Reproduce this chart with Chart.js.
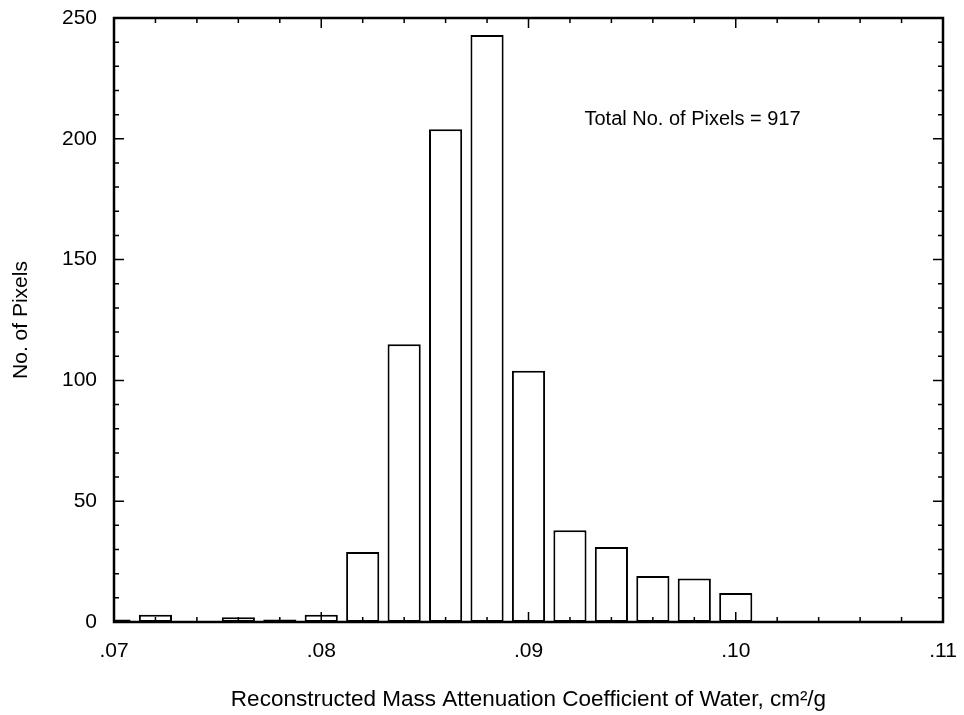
<!DOCTYPE html>
<html><head><meta charset="utf-8">
<script src="https://cdn.jsdelivr.net/npm/chart.js@4.4.1/dist/chart.umd.min.js"></script>
<style>html,body{margin:0;padding:0;background:#fff;} #wrap{width:964px;height:715px;position:relative}</style>
</head><body><div id="wrap"><canvas id="c" width="964" height="715"></canvas></div>
<script>
// Histogram data
const binCenters = [0.070, 0.072, 0.074, 0.076, 0.078, 0.080, 0.082, 0.084, 0.086, 0.088, 0.090, 0.092, 0.094, 0.096, 0.098, 0.100];
const pixelCounts = [1, 3, 0, 2, 1, 3, 29, 115, 204, 243, 104, 38, 31, 19, 18, 12];
const xTickLabels = ['.07', '.08', '.09', '.10', '.11'];
const xMinorTicks = [0.070,0.072,0.074,0.076,0.078,0.080,0.082,0.084,0.086,0.088,0.090,0.092,0.094,0.096,0.098,0.100,0.102,0.104,0.106,0.108,0.110];
const xMajorTicks = [0.07, 0.08, 0.09, 0.10, 0.11];
const yMinorTicks = [0,10,20,30,40,50,60,70,80,90,100,110,120,130,140,150,160,170,180,190,200,210,220,230,240,250];
const yMajorTicks = [0, 50, 100, 150, 200, 250];
const annotationText = 'Total No. of Pixels = 917';
const annotationPos = {x: 0.0927, y: 208};
const xTitle = 'Reconstructed Mass Attenuation Coefficient of Water, cm\u00B2/g';
const yTitle = 'No. of Pixels';

const FONT = 'Liberation Sans, Arial, Helvetica, sans-serif';
Chart.defaults.color = '#000';
Chart.defaults.font.family = FONT;

const frameTicks = {
  id: 'frameTicks',
  afterDatasetsDraw(chart) {
    const {ctx, chartArea: a, scales: {x, y}} = chart;
    ctx.save();
    ctx.strokeStyle = '#000';
    ctx.lineWidth = 1.5;
    ctx.beginPath();
    yMinorTicks.forEach(v => {
      const py = y.getPixelForValue(v);
      const len = yMajorTicks.includes(v) ? 10 : 5;
      ctx.moveTo(a.left, py); ctx.lineTo(a.left + len, py);
      ctx.moveTo(a.right, py); ctx.lineTo(a.right - len, py);
    });
    xMinorTicks.forEach(v => {
      const px = x.getPixelForValue(v);
      const len = xMajorTicks.some(m => Math.abs(m - v) < 1e-9) ? 10 : 5;
      ctx.moveTo(px, a.bottom); ctx.lineTo(px, a.bottom - len);
      ctx.moveTo(px, a.top); ctx.lineTo(px, a.top + len);
    });
    ctx.stroke();
    ctx.lineWidth = 2.5;
    ctx.strokeRect(a.left, a.top, a.right - a.left, a.bottom - a.top);
    // annotation
    ctx.fillStyle = '#000';
    ctx.font = '20px ' + FONT;
    ctx.textAlign = 'left';
    ctx.textBaseline = 'middle';
    ctx.fillText(annotationText, x.getPixelForValue(annotationPos.x), y.getPixelForValue(annotationPos.y));
    ctx.restore();
  }
};

new Chart(document.getElementById('c'), {
  type: 'bar',
  data: {
    datasets: [{
      data: binCenters.map((c, i) => ({x: c, y: pixelCounts[i]})),
      backgroundColor: '#fff',
      borderColor: '#000',
      borderWidth: 2,
      borderSkipped: false,
      barPercentage: 0.8,
      categoryPercentage: 1.0,
      clip: 0
    }]
  },
  options: {
    responsive: false,
    animation: false,
    devicePixelRatio: 1,
    layout: {padding: {left: 0, right: 21, top: 18, bottom: 0}},
    plugins: {legend: {display: false}, tooltip: {enabled: false}},
    scales: {
      x: {
        type: 'linear',
        offset: false,
        min: 0.07, max: 0.11,
        grid: {display: false, drawTicks: false, offset: false},
        border: {display: false},
        ticks: {
          stepSize: 0.01, autoSkip: false, maxRotation: 0, padding: 17,
          font: {size: 21},
          callback: (v, i) => xTickLabels[i]
        },
        title: {display: true, text: xTitle, font: {size: 22.5}, padding: {top: 0, bottom: 2}},
        afterFit: s => { s.height = 93; s.paddingLeft = 0; s.paddingRight = 0; }
      },
      y: {
        min: 0, max: 250,
        grid: {display: false, drawTicks: false},
        border: {display: false},
        ticks: {stepSize: 50, padding: 17, font: {size: 21}},
        title: {display: true, text: yTitle, font: {size: 21}, padding: {top: 9, bottom: 0}},
        afterFit: s => { s.width = 114; s.paddingTop = 0; s.paddingBottom = 0; }
      }
    }
  },
  plugins: [frameTicks]
});
</script></body></html>
